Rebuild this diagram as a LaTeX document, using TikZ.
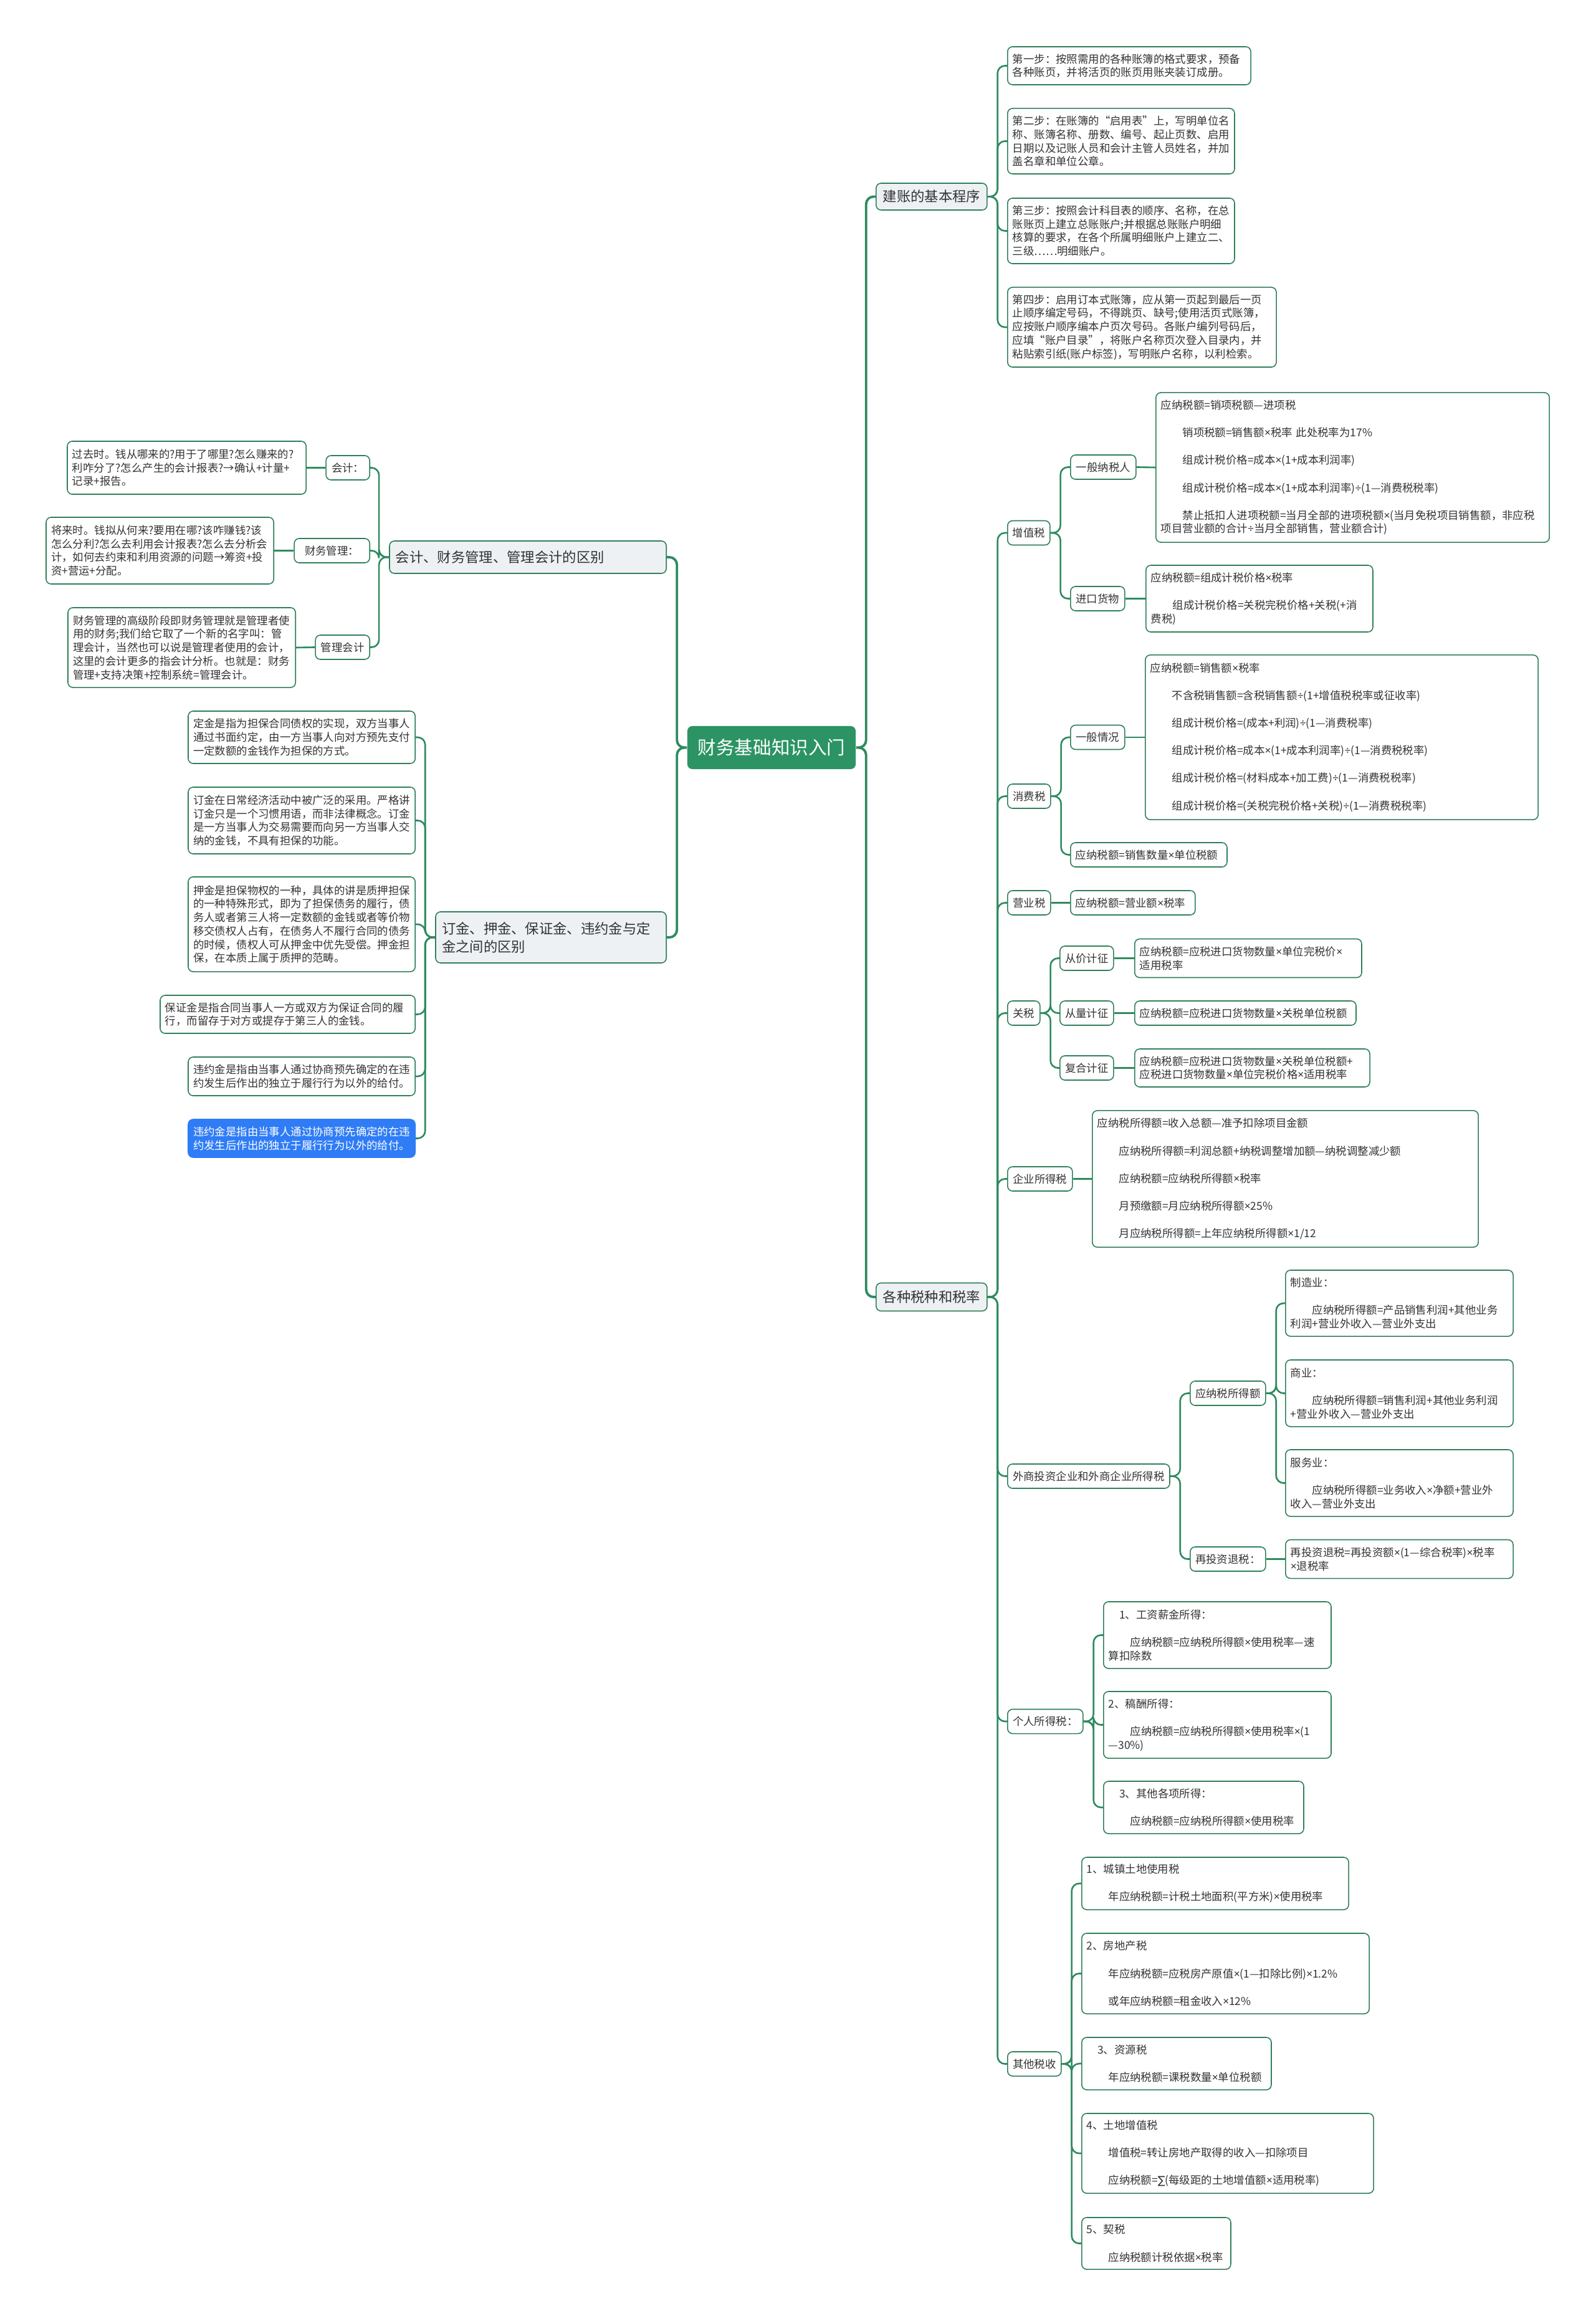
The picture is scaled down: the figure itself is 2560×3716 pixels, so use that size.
\documentclass[tikz,border=0pt]{standalone}
\usepackage{fontspec}
\newfontfamily\cjk{Noto Sans CJK SC}
\newfontfamily\latinf{Noto Sans}
\newfontfamily\symf{DejaVu Sans}

\definecolor{linkgreen}{HTML}{2E8B5F}
\definecolor{boxgreen}{HTML}{2F7F58}
\definecolor{rootgreen}{HTML}{2C9464}
\definecolor{topicgray}{HTML}{EEF1F4}
\definecolor{txtgray}{HTML}{333333}
\definecolor{pickblue}{HTML}{2F7CF6}

\newcommand{\gapln}{\\[6.4pt]}
\newcommand{\indt}{\hspace*{2em}}
% narrow multiply / divide signs
\catcode`\×=\active
\def×{{\latinf\symbol{"D7}}}
\catcode`\÷=\active
\def÷{{\latinf\symbol{"F7}}}

\begin{document}
\begin{tikzpicture}[
  x=0.01cm, y=-0.01cm,
  rootbox/.style={
    rectangle,
    rounded corners=0.08cm,
    fill=rootgreen,
    text=white,
    font=\cjk\fontsize{8.4pt}{10pt}\selectfont,
    minimum width=2.70cm,
    minimum height=0.69cm,
    inner sep=0pt
  },
  topicbox/.style={
    rectangle,
    rounded corners=0.08cm,
    draw=boxgreen,
    line width=0.45pt,
    fill=topicgray,
    text=txtgray,
    font=\cjk\fontsize{6.35pt}{8.25pt}\selectfont,
    align=left,
    inner xsep=0.1cm,
    inner ysep=0pt
  },
  tagbox/.style={
    rectangle,
    rounded corners=0.08cm,
    draw=boxgreen,
    line width=0.45pt,
    fill=white,
    text=txtgray,
    font=\cjk\fontsize{4.95pt}{6.17pt}\selectfont,
    minimum height=0.39cm,
    inner sep=0pt,
    align=center
  },
  leafbox/.style={tagbox, align=left, inner xsep=0.08cm, inner ysep=0pt},
  pickbox/.style={leafbox, fill=pickblue, draw=pickblue, text=white},
  linkline/.style={draw=linkgreen, line width=0.75pt, rounded corners=0.12cm},
  mainline/.style={linkline, line width=1.1pt}
]

\path[use as bounding box, fill=white] (0,0) rectangle (2560,3716);

% --- ROOT ------------------------------------------------------------
\node[rootbox] (root) at (1238,1199.5) {财务基础知识入门};

% --- TOPICS ----------------------------------------------------------
\node[topicbox, anchor=west, minimum width=1.78cm, minimum height=0.43cm] (jz) at (1405,315.5) {建账的基本程序};
\node[topicbox, anchor=west, minimum width=1.78cm, minimum height=0.45cm] (sz) at (1405,2081) {各种税种和税率};
\node[topicbox, anchor=east, text width=4.24cm, minimum height=0.52cm] (kjqb) at (1070,894) {会计、财务管理、管理会计的区别};
\node[topicbox, anchor=east, text width=3.50cm, minimum height=0.82cm] (djqb) at (1070,1504) {订金、押金、保证金、违约金与定\\金之间的区别};

% --- 建账的基本程序 ----------------------------------------------------
\node[leafbox, anchor=west, text width=3.74cm, minimum height=0.61cm] (s1) at (1616,105.5) {第一步：按照需用的各种账簿的格式要求，预备\\各种账页，并将活页的账页用账夹装订成册。};
\node[leafbox, anchor=west, text width=3.48cm, minimum height=1.05cm] (s2) at (1616,226.5) {第二步：在账簿的“启用表”上，写明单位名\\称、账簿名称、册数、编号、起止页数、启用\\日期以及记账人员和会计主管人员姓名，并加\\盖名章和单位公章。};
\node[leafbox, anchor=west, text width=3.48cm, minimum height=1.05cm] (s3) at (1616,370.5) {第三步：按照会计科目表的顺序、名称，在总\\账账页上建立总账账户;并根据总账账户明细\\核算的要求，在各个所属明细账户上建立二、\\三级……明细账户。};
\node[leafbox, anchor=west, text width=4.15cm, minimum height=1.28cm] (s4) at (1616,525) {第四步：启用订本式账簿，应从第一页起到最后一页\\止顺序编定号码，不得跳页、缺号;使用活页式账簿，\\应按账户顺序编本户页次号码。各账户编列号码后，\\应填“账户目录”，将账户名称页次登入目录内，并\\粘贴索引纸(账户标签)，写明账户名称，以利检索。};

% --- 增值税 ----------------------------------------------------------
\node[tagbox, anchor=west, minimum width=0.68cm] (zzs) at (1616,855) {增值税};
\node[tagbox, anchor=west, minimum width=1.05cm] (ybnsr) at (1717,749.5) {一般纳税人};
\node[tagbox, anchor=west, minimum width=0.87cm] (jkhw) at (1717,960.5) {进口货物};
\node[leafbox, anchor=west, text width=6.15cm, minimum height=2.40cm] (vat1) at (1854,750) {应纳税额=销项税额—进项税\gapln
\indt 销项税额=销售额×税率 此处税率为17\%\gapln
\indt 组成计税价格=成本×(1+成本利润率)\gapln
\indt 组成计税价格=成本×(1+成本利润率)÷(1—消费税税率)\gapln
\indt 禁止抵扣人进项税额=当月全部的进项税额×(当月免税项目销售额，非应税\\项目营业额的合计÷当月全部销售，营业额合计)};
\node[leafbox, anchor=west, text width=3.48cm, minimum height=1.07cm] (vat2) at (1838,960.5) {应纳税额=组成计税价格×税率\gapln
\indt 组成计税价格=关税完税价格+关税(+消\\费税)};

% --- 消费税 ----------------------------------------------------------
\node[tagbox, anchor=west, minimum width=0.69cm] (xfs) at (1616,1277.5) {消费税};
\node[tagbox, anchor=west, minimum width=0.87cm] (ybqk) at (1717,1183) {一般情况};
\node[leafbox, anchor=west, text width=6.14cm, minimum height=2.64cm] (cons1) at (1837,1183) {应纳税额=销售额×税率\gapln
\indt 不含税销售额=含税销售额÷(1+增值税税率或征收率)\gapln
\indt 组成计税价格=(成本+利润)÷(1—消费税率)\gapln
\indt 组成计税价格=成本×(1+成本利润率)÷(1—消费税税率)\gapln
\indt 组成计税价格=(材料成本+加工费)÷(1—消费税税率)\gapln
\indt 组成计税价格=(关税完税价格+关税)÷(1—消费税税率)};
\node[leafbox, anchor=west, text width=2.35cm, minimum height=0.39cm] (cons2) at (1717,1371.5) {应纳税额=销售数量×单位税额};

% --- 营业税 / 关税 ---------------------------------------------------
\node[tagbox, anchor=west, minimum width=0.69cm] (yys) at (1616,1448.5) {营业税};
\node[leafbox, anchor=west, text width=1.84cm, minimum height=0.39cm] (biz1) at (1717,1448.5) {应纳税额=营业额×税率};
\node[tagbox, anchor=west, minimum width=0.52cm] (gs) at (1616,1625.5) {关税};
\node[tagbox, anchor=west, minimum width=0.86cm] (cjjz) at (1700,1537.5) {从价计征};
\node[tagbox, anchor=west, minimum width=0.86cm] (cljz) at (1700,1625.5) {从量计征};
\node[tagbox, anchor=west, minimum width=0.86cm] (fhjz) at (1700,1713.5) {复合计征};
\node[leafbox, anchor=west, text width=3.48cm, minimum height=0.62cm] (cus1) at (1820,1537.5) {应纳税额=应税进口货物数量×单位完税价×\\适用税率};
\node[leafbox, anchor=west, text width=3.39cm, minimum height=0.39cm] (cus2) at (1820,1625.5) {应纳税额=应税进口货物数量×关税单位税额};
\node[leafbox, anchor=west, text width=3.61cm, minimum height=0.61cm] (cus3) at (1820,1713.5) {应纳税额=应税进口货物数量×关税单位税额+\\应税进口货物数量×单位完税价格×适用税率};

% --- 企业所得税 ------------------------------------------------------
\node[tagbox, anchor=west, minimum width=1.04cm] (qysds) at (1616,1891.5) {企业所得税};
\node[leafbox, anchor=west, text width=6.03cm, minimum height=2.19cm] (ent1) at (1752,1891.5) {应纳税所得额=收入总额—准予扣除项目金额\gapln
\indt 应纳税所得额=利润总额+纳税调整增加额—纳税调整减少额\gapln
\indt 应纳税额=应纳税所得额×税率\gapln
\indt 月预缴额=月应纳税所得额×25\%\gapln
\indt 月应纳税所得额=上年应纳税所得额×1/12};

% --- 外商投资企业和外商企业所得税 ------------------------------------
\node[tagbox, anchor=west, minimum width=2.60cm] (wssds) at (1616,2368.5) {外商投资企业和外商企业所得税};
\node[tagbox, anchor=west, minimum width=1.21cm] (ynsde) at (1909,2235.5) {应纳税所得额};
\node[tagbox, anchor=west, minimum width=1.21cm] (ztz) at (1909,2501.5) {再投资退税：};
\node[leafbox, anchor=west, text width=3.49cm, minimum height=1.06cm] (fi1) at (2062,2091) {制造业：\gapln
\indt 应纳税所得额=产品销售利润+其他业务\\利润+营业外收入—营业外支出};
\node[leafbox, anchor=west, text width=3.49cm, minimum height=1.07cm] (fi2) at (2062,2235.5) {商业：\gapln
\indt 应纳税所得额=销售利润+其他业务利润\\+营业外收入—营业外支出};
\node[leafbox, anchor=west, text width=3.49cm, minimum height=1.07cm] (fi3) at (2062,2379.5) {服务业：\gapln
\indt 应纳税所得额=业务收入×净额+营业外\\收入—营业外支出};
\node[leafbox, anchor=west, text width=3.49cm, minimum height=0.62cm] (fi4) at (2062,2501.5) {再投资退税=再投资额×(1—综合税率)×税率\\×退税率};

% --- 个人所得税 ------------------------------------------------------
\node[tagbox, anchor=west, minimum width=1.21cm] (grsds) at (1616,2762) {个人所得税：};
\node[leafbox, anchor=west, text width=3.49cm, minimum height=1.07cm] (pi1) at (1770,2623.5) {\hspace*{1em}1、工资薪金所得：\gapln
\indt 应纳税额=应纳税所得额×使用税率—速\\算扣除数};
\node[leafbox, anchor=west, text width=3.49cm, minimum height=1.07cm] (pi2) at (1770,2767.5) {2、稿酬所得：\gapln
\indt 应纳税额=应纳税所得额×使用税率×(1\\—30\%)};
\node[leafbox, anchor=west, text width=3.05cm, minimum height=0.84cm] (pi3) at (1770,2900) {\hspace*{1em}3、其他各项所得：\gapln
\indt 应纳税额=应纳税所得额×使用税率};

% --- 其他税收 --------------------------------------------------------
\node[tagbox, anchor=west, minimum width=0.86cm] (qtss) at (1616,3311.5) {其他税收};
\node[leafbox, anchor=west, text width=4.12cm, minimum height=0.84cm] (ot1) at (1735,3022) {1、城镇土地使用税\gapln
\indt 年应纳税额=计税土地面积(平方米)×使用税率};
\node[leafbox, anchor=west, text width=4.45cm, minimum height=1.29cm] (ot2) at (1735,3166.5) {2、房地产税\gapln
\indt 年应纳税额=应税房产原值×(1—扣除比例)×1.2\%\gapln
\indt 或年应纳税额=租金收入×12\%};
\node[leafbox, anchor=west, text width=2.88cm, minimum height=0.84cm] (ot3) at (1735,3311) {\hspace*{1em}3、资源税\gapln
\indt 年应纳税额=课税数量×单位税额};
\node[leafbox, anchor=west, text width=4.52cm, minimum height=1.28cm] (ot4) at (1735,3455) {4、土地增值税\gapln
\indt 增值税=转让房地产取得的收入—扣除项目\gapln
\indt 应纳税额={\symf ∑}(每级距的土地增值额×适用税率)};
\node[leafbox, anchor=west, text width=2.23cm, minimum height=0.83cm] (ot5) at (1735,3599.5) {5、契税\gapln
\indt 应纳税额计税依据×税率};

% --- 会计、财务管理、管理会计的区别 ----------------------------------
\node[tagbox, anchor=east, minimum width=0.70cm] (kjt) at (594,750.5) {会计：};
\node[tagbox, anchor=east, minimum width=1.21cm] (cwt) at (594,883.5) {财务管理：};
\node[tagbox, anchor=east, minimum width=0.87cm] (glt) at (594,1038.5) {管理会计};
\node[leafbox, anchor=east, text width=3.67cm, minimum height=0.85cm] (kj) at (492,750.5) {过去时。钱从哪来的?用于了哪里?怎么赚来的?\\利咋分了?怎么产生的会计报表?→确认+计量+\\记录+报告。};
\node[leafbox, anchor=east, text width=3.49cm, minimum height=1.07cm] (cw) at (440,883.5) {将来时。钱拟从何来?要用在哪?该咋赚钱?该\\怎么分利?怎么去利用会计报表?怎么去分析会\\计，如何去约束和利用资源的问题→筹资+投\\资+营运+分配。};
\node[leafbox, anchor=east, text width=3.49cm, minimum height=1.28cm] (gl) at (475,1039) {财务管理的高级阶段即财务管理就是管理者使\\用的财务;我们给它取了一个新的名字叫：管\\理会计，当然也可以说是管理者使用的会计，\\这里的会计更多的指会计分析。也就是：财务\\管理+支持决策+控制系统=管理会计。};

% --- 订金、押金、保证金、违约金与定金之间的区别 ----------------------
\node[leafbox, anchor=east, text width=3.48cm, minimum height=0.84cm] (dj1) at (667,1183) {定金是指为担保合同债权的实现，双方当事人\\通过书面约定，由一方当事人向对方预先支付\\一定数额的金钱作为担保的方式。};
\node[leafbox, anchor=east, text width=3.48cm, minimum height=1.07cm] (dj2) at (667,1316.5) {订金在日常经济活动中被广泛的采用。严格讲\\订金只是一个习惯用语，而非法律概念。订金\\是一方当事人为交易需要而向另一方当事人交\\纳的金钱，不具有担保的功能。};
\node[leafbox, anchor=east, text width=3.48cm, minimum height=1.52cm] (dj3) at (667,1483) {押金是担保物权的一种，具体的讲是质押担保\\的一种特殊形式，即为了担保债务的履行，债\\务人或者第三人将一定数额的金钱或者等价物\\移交债权人占有，在债务人不履行合同的债务\\的时候，债权人可从押金中优先受偿。押金担\\保，在本质上属于质押的范畴。};
\node[leafbox, anchor=east, text width=3.93cm, minimum height=0.61cm] (dj4) at (667,1627.5) {保证金是指合同当事人一方或双方为保证合同的履\\行，而留存于对方或提存于第三人的金钱。};
\node[leafbox, anchor=east, text width=3.48cm, minimum height=0.62cm] (dj5) at (667,1727) {违约金是指由当事人通过协商预先确定的在违\\约发生后作出的独立于履行行为以外的给付。};
\node[pickbox, anchor=east, text width=3.48cm, minimum height=0.61cm] (dj6) at (667,1826.5) {违约金是指由当事人通过协商预先确定的在违\\约发生后作出的独立于履行行为以外的给付。};

% --- CONNECTORS ------------------------------------------------------
\foreach \c in {jz,sz} \draw[mainline] (root.east) -- ++(16,0) |- (\c.west);
\foreach \c in {kjqb,djqb} \draw[mainline] (root.west) -- ++(-16,0) |- (\c.east);

\foreach \c in {s1,s2,s3,s4} \draw[linkline] (jz.east) -- ++(16,0) |- (\c.west);
\foreach \c in {zzs,xfs,yys,gs,qysds,wssds,grsds,qtss} \draw[linkline] (sz.east) -- ++(16,0) |- (\c.west);

\foreach \c in {ybnsr,jkhw} \draw[linkline] (zzs.east) -- ++(16,0) |- (\c.west);
\draw[linkline] (ybnsr.east) -- (vat1.west);
\draw[linkline] (jkhw.east) -- (vat2.west);

\foreach \c in {ybqk,cons2} \draw[linkline] (xfs.east) -- ++(16,0) |- (\c.west);
\draw[linkline] (ybqk.east) -- (cons1.west);

\draw[linkline] (yys.east) -- (biz1.west);

\foreach \c in {cjjz,cljz,fhjz} \draw[linkline] (gs.east) -- ++(16,0) |- (\c.west);
\draw[linkline] (cjjz.east) -- (cus1.west);
\draw[linkline] (cljz.east) -- (cus2.west);
\draw[linkline] (fhjz.east) -- (cus3.west);

\draw[linkline] (qysds.east) -- (ent1.west);

\foreach \c in {ynsde,ztz} \draw[linkline] (wssds.east) -- ++(16,0) |- (\c.west);
\foreach \c in {fi1,fi2,fi3} \draw[linkline] (ynsde.east) -- ++(16,0) |- (\c.west);
\draw[linkline] (ztz.east) -- (fi4.west);

\foreach \c in {pi1,pi2,pi3} \draw[linkline] (grsds.east) -- ++(16,0) |- (\c.west);
\foreach \c in {ot1,ot2,ot3,ot4,ot5} \draw[linkline] (qtss.east) -- ++(16,0) |- (\c.west);

\foreach \c in {kjt,cwt,glt} \draw[linkline] (kjqb.west) -- ++(-16,0) |- (\c.east);
\draw[linkline] (kjt.west) -- (kj.east);
\draw[linkline] (cwt.west) -- (cw.east);
\draw[linkline] (glt.west) -- (gl.east);

\foreach \c in {dj1,dj2,dj3,dj4,dj5,dj6} \draw[linkline] (djqb.west) -- ++(-16,0) |- (\c.east);

\end{tikzpicture}
\end{document}
